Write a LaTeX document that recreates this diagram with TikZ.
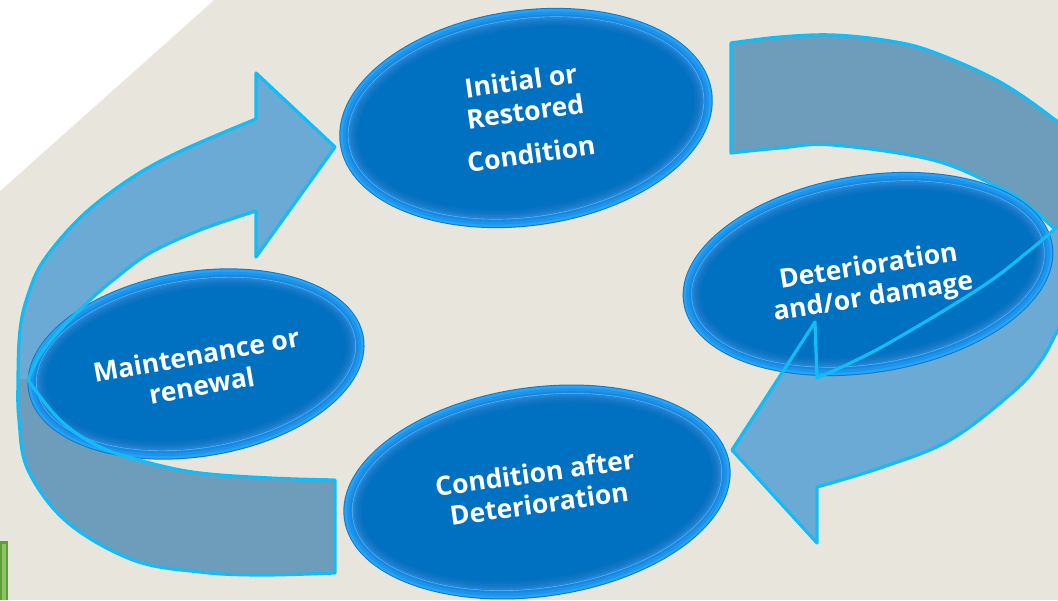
\documentclass[tikz,border=0pt]{standalone}
\usepackage{fontspec}
\setmainfont{Open Sans}
\usetikzlibrary{shapes.geometric}

\definecolor{paper}{HTML}{E8E6DC}
\definecolor{arrowlight}{HTML}{6BAAD5}
\definecolor{arrowdark}{HTML}{6E9DBB}
\definecolor{arrowline}{HTML}{12BDF6}
\definecolor{rimedge}{HTML}{0F78CC}
\definecolor{rimA}{HTML}{25A3F4}
\definecolor{rimB}{HTML}{1C93EC}
\definecolor{rimC}{HTML}{1688E0}
\definecolor{rimhl}{HTML}{62B6EE}
\definecolor{glowA}{HTML}{2386D8}
\definecolor{glowB}{HTML}{1A7ECD}
\definecolor{glowC}{HTML}{1177C6}
\definecolor{glowD}{HTML}{0A73C2}
\definecolor{core}{HTML}{0070C0}
\definecolor{grassA}{HTML}{5E9E38}
\definecolor{grassB}{HTML}{8DC566}

\tikzset{
  caption/.style={text=white, font=\bfseries\fontsize{26.5}{31}\selectfont,
    align=center, inner sep=0pt},
  arrowedge/.style={draw=arrowline, line width=3.2pt, line join=round},
  edgecurve/.style={smooth, tension=0.6},
}

% glossy ellipse: centre x, centre y, tilt, semi-axes a and b
\newcommand\glassdisk[5]{%
  \begin{scope}[shift={(#1,#2)}, rotate=#3]
    \foreach \d/\c in {0/rimedge,1/rimA,3.5/rimB,6.5/rimC,8.6/rimhl,
                       9.2/glowA,11/glowB,13/glowC,15.5/glowD,18/core}{
      \pgfmathsetmacro\rx{#4-\d}
      \pgfmathsetmacro\ry{#5-\d}
      \fill[\c] (0,0) ellipse [x radius=\rx, y radius=\ry];
    }
  \end{scope}}

% outlines of the two circular block arrows
\def\leftarrowpath{(335,480) -- (335,573)
  -- plot[edgecurve] coordinates {(335,573) (260,575) (200,572) (133,560) (67,522)
     (28,470) (19,420) (18,380) (20,330) (28,295) (44,260) (83,215) (133,177)
     (183,150) (256,119)}
  -- (256,73) -- (335,147) -- (256,257) -- (256,211)
  -- plot[edgecurve] coordinates {(256,211) (200,230) (150,253) (117,277) (90,300)
     (60,330) (40,355) (28,380)}
  -- plot[edgecurve] coordinates {(28,380) (60,420) (100,447) (150,463) (200,473)
     (270,478) (335,480)} -- cycle}

\def\backtop{plot[edgecurve] coordinates {(1090,150) (1058,122) (1000,82) (933,52)
     (890,41) (833,35) (780,37) (731,43)}}
\def\backinner{-- plot[edgecurve] coordinates {(731,153) (780,148) (833,145) (933,160)
     (1000,188) (1025,203) (1058,232) (1075,248)}}
\def\frontinner{plot[edgecurve] coordinates {(1075,212) (1056,228) (1030,250)
     (980,288) (880,348) (817,378)}}
\def\fronthead{-- (815,322) -- (732,450) -- (817,543) -- (817,487)}
\def\frontouter{-- plot[edgecurve] coordinates {(817,487) (883,467) (950,440)
     (1013,392) (1040,362) (1058,330) (1080,290)}}

\begin{document}
\begin{tikzpicture}[x=1pt, y=-1pt]
  \useasboundingbox (0,0) rectangle (1058,600);
  \clip (0,0) rectangle (1058,600);

  % slide background
  \fill[paper] (0,0) rectangle (1058,600);
  \fill[white] (0,0) -- (214,0) -- (0,191) -- cycle;
  \fill[grassA] (0,541) rectangle (8,600);
  \fill[grassB] (1.5,544) rectangle (6,600);

  % left arrow: light front part, darker back part
  \fill[arrowlight] \leftarrowpath;
  \begin{scope}
    \clip (0,379) rectangle (400,600);
    \fill[arrowdark] \leftarrowpath;
  \end{scope}

  % right arrow: dark back part and light front part
  \fill[arrowdark] \backtop \backinner -- cycle;
  \draw[arrowedge] \backtop \backinner;
  \fill[arrowlight] \frontinner \fronthead \frontouter -- (1090,200) -- cycle;

  % the four states
  \glassdisk{526}{118}{8}{188}{108}
  \glassdisk{868}{274}{9}{187}{99}
  \glassdisk{196}{364}{9}{170}{93}
  \glassdisk{537}{492}{8}{195}{105}

  % arrow outlines lie over the ellipses
  \draw[arrowedge] \leftarrowpath;
  \draw[arrowedge] \frontinner \fronthead \frontouter;

  % state labels
  \node[caption, rotate=8] (initial) at (526,117)
    {Initial or\\Restored\\[12pt]Condition};
  \node[caption, rotate=9] (deterioration) at (871,283)
    {Deterioration\\and/or damage};
  \node[caption, rotate=10] (maintenance) at (199,370)
    {Maintenance or\\renewal};
  \node[caption, rotate=8] (after) at (537,488)
    {Condition after\\Deterioration};
\end{tikzpicture}
\end{document}
